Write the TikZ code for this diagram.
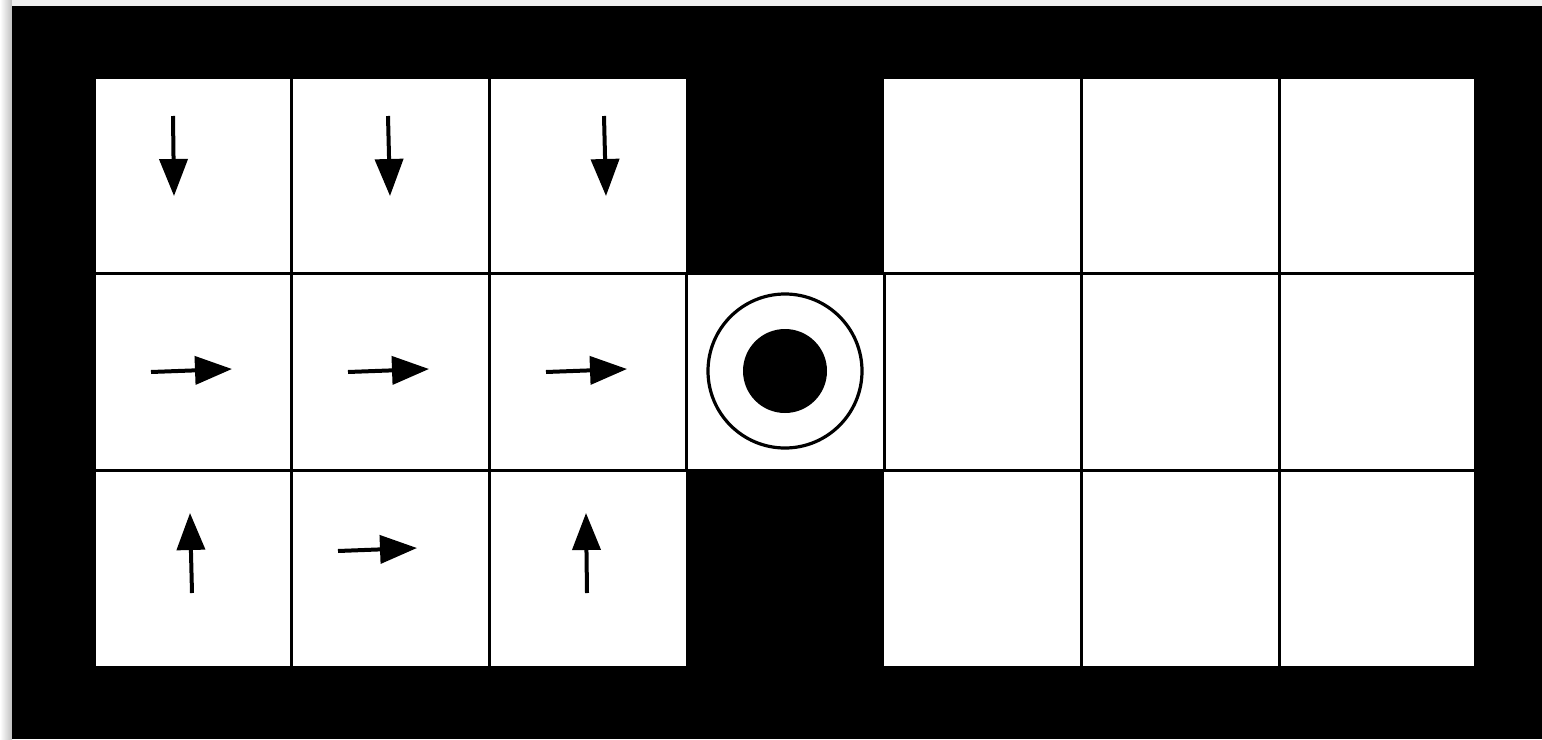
\documentclass[tikz,border=0pt]{standalone}
\usetikzlibrary{arrows.meta}
\begin{document}
\begin{tikzpicture}[x=0.5pt,y=-0.5pt,
  gridline/.style={line width=1.5pt,black},
  move/.style={line width=2pt,-{Triangle[length=18.5pt,width=14pt]}},
  ring/.style={line width=1.6pt,black}]
\useasboundingbox (0,0) rectangle (1542,739);
\fill[white] (0,0) rectangle (1542,739);
\shade[left color=white,right color=black!25] (0,0) rectangle (12,739);
\fill[black!6] (12,0) rectangle (1542,6);
\fill[black] (12,6) rectangle (1542,739);
% white regions
\fill[white] (96,79) rectangle (686,666);
\fill[white] (686,273) rectangle (884,470);
\fill[white] (884,79) rectangle (1474,666);
% grid lines
\foreach \y in {273,470} \draw[gridline] (96,\y) -- (1474,\y);
\foreach \x in {291,489} \draw[gridline] (\x,79) -- (\x,666);
\foreach \x in {1081,1279} \draw[gridline] (\x,79) -- (\x,666);
\draw[gridline] (686,273) -- (686,470);
\draw[gridline] (884,273) -- (884,470);
% goal
\coordinate (goal) at (785,371);
\draw[ring] (goal) circle (77);
\fill (goal) circle (42);
% policy arrows
\coordinate (a1s) at (173,116); \coordinate (a1e) at (174,196);
\coordinate (a2s) at (388,116); \coordinate (a2e) at (390,196);
\coordinate (a3s) at (604,116); \coordinate (a3e) at (606,196);
\coordinate (b1s) at (151,372); \coordinate (b1e) at (232,369);
\coordinate (b2s) at (348,372); \coordinate (b2e) at (429,369);
\coordinate (b3s) at (546,372); \coordinate (b3e) at (627,369);
\coordinate (c1s) at (192,593); \coordinate (c1e) at (190,513);
\coordinate (c2s) at (338,551); \coordinate (c2e) at (417,548);
\coordinate (c3s) at (587,593); \coordinate (c3e) at (586,513);
\foreach \p in {a1,a2,a3,b1,b2,b3,c1,c2,c3}
  \draw[move] (\p s) -- (\p e);
\end{tikzpicture}
\end{document}
